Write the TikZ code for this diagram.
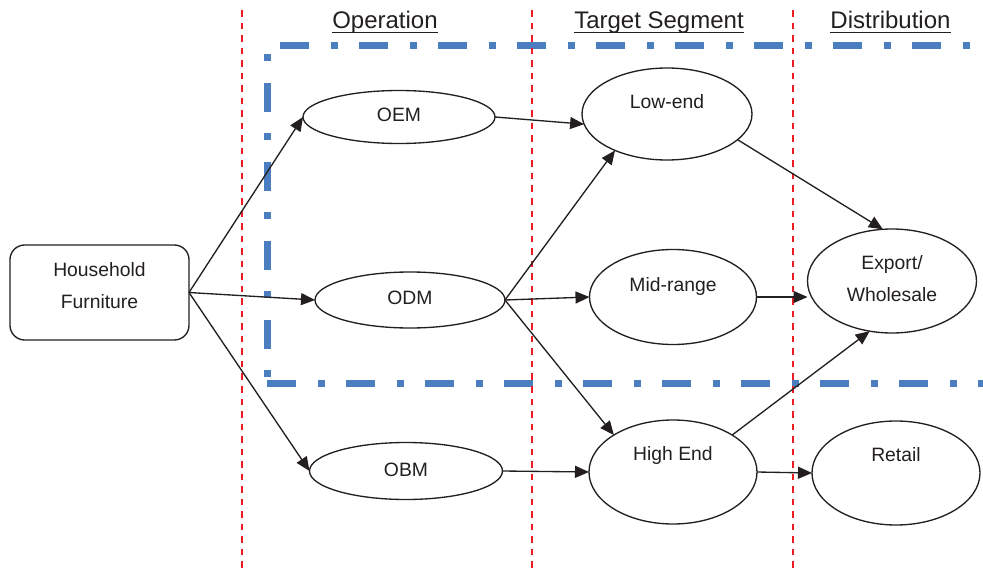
\documentclass[tikz,border=0pt]{standalone}
\usepackage{fontspec}
\setmainfont{Liberation Sans}
\usetikzlibrary{shapes.geometric,arrows.meta}
\definecolor{boxblue}{RGB}{74,126,193}
\definecolor{vred}{RGB}{237,28,36}
\definecolor{ink}{RGB}{35,31,32}
\begin{document}
\begin{tikzpicture}[x=0.75pt,y=-0.75pt,
  ell/.style={ellipse,draw=ink,line width=1pt,inner sep=0pt,outer sep=0pt},
  rbox/.style={rectangle,rounded corners=11pt,draw=ink,line width=1pt,inner sep=0pt,outer sep=0pt},
  lbl/.style={text=ink,font=\fontsize{14.5}{24}\selectfont,align=center,inner sep=0pt},
  hdr/.style={text=ink,font=\fontsize{18}{22}\selectfont,inner sep=0pt,anchor=base,text depth=0pt},
  uline/.style={draw=ink,line width=1pt},
  arr/.style={draw=ink,line width=1pt,-{Triangle[length=10.5pt,width=9pt]}},
  sepline/.style={draw=vred,line width=1.1pt,dash pattern=on 4.9pt off 4.5pt},
  blu/.style={draw=boxblue,line width=5.25pt},
  dashA/.style={dash pattern=on 21.75pt off 16.5pt on 5.25pt off 15.75pt},
  dashB/.style={dash pattern=on 5.25pt off 16.5pt on 21.75pt off 15.75pt},
]
\useasboundingbox (0,0) rectangle (983,571);

% blue dash-dot frame
\draw[blu,dashA] (280,45.5) -- (983,45.5);
\draw[blu,dashB] (267,54) -- (267,378);
\draw[blu,dashA] (267,383) -- (983,383);

% red separators
\draw[sepline] (242,10) -- (242,571);
\draw[sepline] (532,10) -- (532,571);
\draw[sepline] (793,10) -- (793,571);

% headers
\node[hdr] (h1) at (385,28) {Operation};
\node[hdr] (h2) at (659,28) {Target Segment};
\node[hdr] (h3) at (890.5,28) {Distribution};
\draw[uline] ([yshift=-3pt]h1.south west) -- ([yshift=-3pt]h1.south east);
\draw[uline] ([yshift=-3pt]h2.south west) -- ([yshift=-3pt]h2.south east);
\draw[uline] ([yshift=-3pt]h3.south west) -- ([yshift=-3pt]h3.south east);

% nodes
\node[rbox,minimum width=134.25pt,minimum height=71.25pt] (hf) at (99.5,292.5) {};
\node[lbl] (thf) at (99.5,286) {Household\\Furniture};

\node[ell,minimum width=144pt,minimum height=39.75pt] (oem) at (399,117) {};
\node[lbl] (toem) at (399,115) {OEM};
\node[ell,minimum width=142.5pt,minimum height=42pt] (odm) at (410,300) {};
\node[lbl] (todm) at (410,298) {ODM};
\node[ell,minimum width=144.75pt,minimum height=42.75pt] (obm) at (406,471) {};
\node[lbl] (tobm) at (406,470) {OBM};

\node[ell,minimum width=127.5pt,minimum height=69pt] (low) at (667,114) {};
\node[lbl] (tlow) at (667,102) {Low-end};
\node[ell,minimum width=125.25pt,minimum height=71.25pt] (mid) at (673,297) {};
\node[lbl] (tmid) at (673,286) {Mid-range};
\node[ell,minimum width=126pt,minimum height=78pt] (high) at (673,472) {};
\node[lbl] (thigh) at (673,455) {High End};

\node[ell,minimum width=126.75pt,minimum height=78pt] (exp) at (892,281) {};
\node[lbl] (texp) at (892,279) {Export/\\Wholesale};
\node[ell,minimum width=126pt,minimum height=78pt] (ret) at (896,473) {};
\node[lbl] (tret) at (896,455) {Retail};

% connectors
\draw[arr] (hf.east) -- (oem.west);
\draw[arr] (hf.east) -- (odm.west);
\draw[arr] (hf.east) -- (obm.west);
\draw[arr] (oem.east) -- (low.187);
\draw[arr] (odm.east) -- (low.215);
\draw[arr] (odm.east) -- (mid.west);
\draw[arr] (odm.east) -- (high.148);
\draw[arr] (obm.east) -- (high.west);
\draw[arr] (low.-20) -- (exp.100);
\draw[arr] (mid.east) -- (mid.east -| exp.west);
\draw[arr] (high.32) -- (exp.246);
\draw[arr] (high.east) -- (ret.west);
\end{tikzpicture}
\end{document}
